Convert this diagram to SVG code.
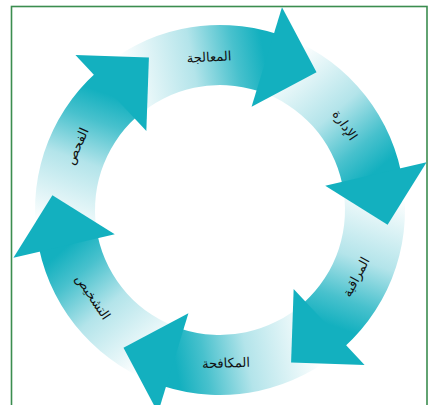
<svg xmlns="http://www.w3.org/2000/svg" width="429" height="405" viewBox="0 0 429 405">
  <style>
    .head { fill: #13b0bf; }
    .label { font-family: "DejaVu Sans", "Noto Sans", sans-serif; font-size: 13px; fill: #111111; text-anchor: middle; }
    .frame { fill: #ffffff; stroke: #3b8d4f; stroke-width: 1.6; }
  </style>
  <defs>
    <linearGradient id="gs">
      <stop offset="0" stop-color="#ffffff"/><stop offset="0.5" stop-color="#b3e4ea"/><stop offset="0.8" stop-color="#48c1cd"/><stop offset="1" stop-color="#13b0bf"/>
    </linearGradient>
    <linearGradient id="g1" href="#gs" gradientUnits="userSpaceOnUse" x1="124.57" y1="87.86" x2="265.32" y2="61.77"/>
    <linearGradient id="g2" href="#gs" gradientUnits="userSpaceOnUse" x1="278.06" y1="66.29" x2="371.03" y2="175.13"/>
    <linearGradient id="g3" href="#gs" gradientUnits="userSpaceOnUse" x1="373.49" y1="188.43" x2="325.71" y2="323.36"/>
    <linearGradient id="g4" href="#gs" gradientUnits="userSpaceOnUse" x1="315.43" y1="332.14" x2="174.68" y2="358.23"/>
    <linearGradient id="g5" href="#gs" gradientUnits="userSpaceOnUse" x1="161.94" y1="353.71" x2="68.97" y2="244.87"/>
    <linearGradient id="g6" href="#gs" gradientUnits="userSpaceOnUse" x1="66.51" y1="231.57" x2="114.29" y2="96.64"/>
  </defs>

  <rect class="frame" x="11.5" y="6.5" width="415.5" height="410"/>

  <g id="connectors">
    <g id="arrow-bodies">
      <path id="body-1" fill="url(#g1)" d="M96.21,72.52 A185,185 0 0 1 277.17,34.05 L258.63,91.12 A125,125 0 0 0 136.36,117.11 Z"/>
      <path id="body-2" fill="url(#g2)" d="M277.17,34.05 A185,185 0 0 1 400.96,171.54 L342.27,184.01 A125,125 0 0 0 258.63,91.12 Z"/>
      <path id="body-3" fill="url(#g3)" d="M400.96,171.54 A185,185 0 0 1 343.79,347.48 L303.64,302.89 A125,125 0 0 0 342.27,184.01 Z"/>
      <path id="body-4" fill="url(#g4)" d="M343.79,347.48 A185,185 0 0 1 162.83,385.95 L181.37,328.88 A125,125 0 0 0 303.64,302.89 Z"/>
      <path id="body-5" fill="url(#g5)" d="M162.83,385.95 A185,185 0 0 1 39.04,248.46 L97.73,235.99 A125,125 0 0 0 181.37,328.88 Z"/>
      <path id="body-6" fill="url(#g6)" d="M39.04,248.46 A185,185 0 0 1 96.21,72.52 L136.36,117.11 A125,125 0 0 0 97.73,235.99 Z"/>
    </g>
    <g id="arrow-heads">
      <polygon id="head-1" class="head" points="251.58,106.72 281.98,7.26 316.51,72.19"/>
      <polygon id="head-2" class="head" points="325.23,185.71 426.57,162.31 387.60,224.68"/>
      <polygon id="head-3" class="head" points="293.66,288.99 364.58,365.05 291.09,362.48"/>
      <polygon id="head-4" class="head" points="188.42,313.28 158.02,412.74 123.49,347.81"/>
      <polygon id="head-5" class="head" points="114.77,234.29 13.43,257.69 52.40,195.32"/>
      <polygon id="head-6" class="head" points="146.34,131.01 75.42,54.95 148.91,57.52"/>
    </g>
  </g>

  <g id="node-treatment" transform="translate(209,57) rotate(-3)"><text class="label" x="0" y="4.5">المعالجة</text></g>
  <g id="node-management" transform="translate(345,125) rotate(56)"><text class="label" x="0" y="4.5">الإدارة</text></g>
  <g id="node-monitoring" transform="translate(356,277) rotate(-62)"><text class="label" x="0" y="4.5">المراقبة</text></g>
  <g id="node-control" transform="translate(226,363) rotate(-2)"><text class="label" x="0" y="4.5">المكافحة</text></g>
  <g id="node-diagnosis" transform="translate(93,297) rotate(56)"><text class="label" x="0" y="4.5">التشخيص</text></g>
  <g id="node-inspection" transform="translate(77,146) rotate(-66)"><text class="label" x="0" y="4.5">الفحص</text></g>
</svg>
